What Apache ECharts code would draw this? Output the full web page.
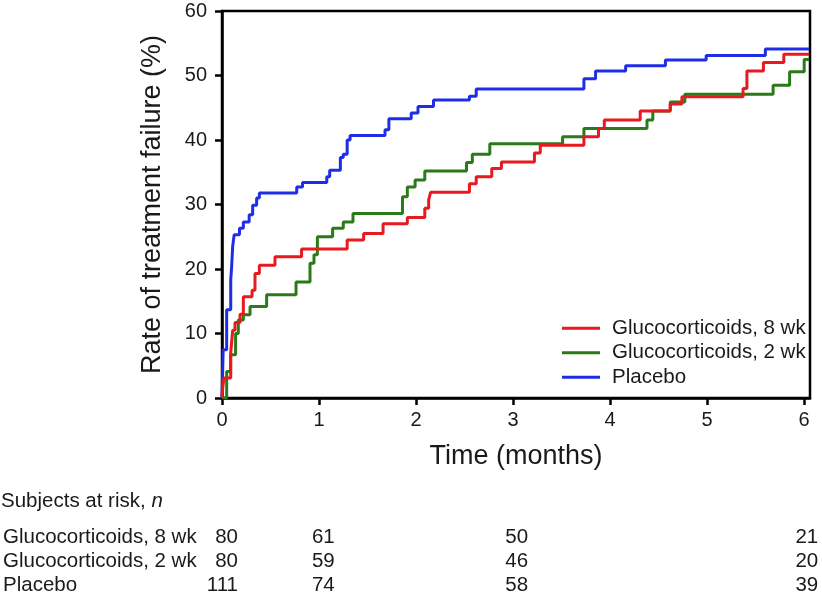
<!DOCTYPE html>
<html>
<head>
<meta charset="utf-8">
<script src="https://cdn.jsdelivr.net/npm/echarts@6/dist/echarts.min.js"></script>
<style>
html,body{margin:0;padding:0;background:#fff;}
#c{width:822px;height:602px;}
</style>
</head>
<body>
<div id="c"></div>
<script>
// ---- Data ----
const seriesNames = ['Glucocorticoids, 8 wk', 'Glucocorticoids, 2 wk', 'Placebo'];

const gc8T = [0, 0.005, 0.02, 0.09, 0.11, 0.134, 0.186, 0.22, 0.31, 0.34, 0.385, 0.546, 0.82, 1.29, 1.46, 1.66, 1.91, 2.09, 2.13, 2.15, 2.55, 2.62, 2.78, 2.88, 3.22, 3.28, 3.73, 3.88, 3.94, 4.31, 4.62, 4.74, 5.37, 5.41, 5.58, 5.79, 6.05];
const gc8Y = [0, 1.3, 3.1, 7.0, 10.5, 11.7, 13.0, 15.7, 16.7, 19.3, 20.6, 21.9, 23.1, 24.5, 25.5, 27.0, 28.0, 29.4, 30.7, 31.9, 33.2, 34.3, 35.6, 36.6, 38.0, 39.2, 40.5, 41.8, 43.1, 44.5, 45.6, 46.7, 48.0, 50.7, 52.0, 53.3, 53.3];

const gc2T = [0, 0.048, 0.089, 0.14, 0.168, 0.22, 0.289, 0.46, 0.763, 0.907, 0.948, 0.983, 1.14, 1.25, 1.35, 1.86, 1.91, 1.99, 2.09, 2.52, 2.58, 2.76, 3.51, 3.73, 4.38, 4.44, 4.62, 4.77, 5.68, 5.85, 6.0, 6.05];
const gc2Y = [0, 4.1, 6.7, 10.0, 12.1, 12.9, 14.2, 16.0, 18.0, 20.9, 22.2, 25.0, 26.3, 27.3, 28.6, 31.2, 32.7, 33.8, 35.2, 36.5, 37.8, 39.4, 40.5, 41.8, 43.1, 44.5, 45.9, 47.1, 48.5, 50.6, 52.5, 52.5];

const plT = [0, 0.012, 0.048, 0.09, 0.10, 0.11, 0.125, 0.18, 0.22, 0.28, 0.316, 0.357, 0.385, 0.77, 0.83, 1.08, 1.11, 1.22, 1.25, 1.29, 1.32, 1.68, 1.72, 1.95, 2.02, 2.18, 2.55, 2.62, 3.73, 3.85, 4.16, 4.57, 4.99, 5.60, 6.05];
const plY = [0, 7.5, 13.7, 18.3, 20.5, 23.5, 25.3, 26.3, 27.3, 28.4, 29.9, 31.0, 31.8, 32.7, 33.4, 34.3, 35.3, 37.3, 37.8, 40.0, 40.7, 41.6, 43.3, 44.2, 45.2, 46.2, 46.8, 47.9, 49.5, 50.7, 51.5, 52.4, 53.1, 54.1, 54.1];

const xTicks = [0, 1, 2, 3, 4, 5, 6];
const riskTimes = [0, 1, 3, 6];
const risk8 = [80, 61, 50, 21];
const risk2 = [80, 59, 46, 20];
const riskPl = [111, 74, 58, 39];

// ---- Chart ----
const FONT = 'Liberation Sans, Arial, Helvetica, sans-serif';
const TXT = '#1a1a1a';
const colors = ['#e8191f', '#2a7a19', '#1f2ee6'];

function pairs(t, y) { return t.map((v, i) => [v, y[i]]); }
const riskRows = [risk8, risk2, riskPl];
const riskData = [];
riskRows.forEach((row, r) => row.forEach((n, i) => riskData.push([riskTimes[i], r, n])));

const chart = echarts.init(document.getElementById('c'), null, {renderer: 'canvas'});
chart.setOption({
  animation: false,
  backgroundColor: '#fff',
  textStyle: {fontFamily: FONT, color: TXT},
  grid: [
    {left: 222, right: 12, top: 11, height: 387, show: true, borderColor: '#000', borderWidth: 2.5, backgroundColor: 'transparent'},
    {left: 222, right: 12, top: 525, height: 72, show: false}
  ],
  xAxis: [
    {
      type: 'value', gridIndex: 0, min: 0, max: 6.06, interval: 1,
      name: 'Time (months)', nameLocation: 'middle', nameGap: 45,
      nameTextStyle: {fontSize: 27, color: TXT, fontFamily: FONT},
      axisLine: {show: true, lineStyle: {color: '#000', width: 2.5}},
      axisTick: {show: true, length: 7, lineStyle: {color: '#000', width: 2.5}, customValues: xTicks},
      axisLabel: {fontSize: 20, color: TXT, margin: 12, customValues: xTicks},
      splitLine: {show: false}
    },
    {type: 'value', gridIndex: 1, min: 0, max: 6.06, show: false}
  ],
  yAxis: [
    {
      type: 'value', gridIndex: 0, min: 0, max: 60, interval: 10,
      name: 'Rate of treatment failure (%)', nameLocation: 'middle', nameGap: 56,
      nameTextStyle: {fontSize: 27, color: TXT, fontFamily: FONT},
      axisLine: {show: true, lineStyle: {color: '#000', width: 2.5}},
      axisTick: {show: true, length: 7, lineStyle: {color: '#000', width: 2.5}},
      axisLabel: {fontSize: 20, color: TXT, margin: 15},
      splitLine: {show: false}
    },
    {
      type: 'category', gridIndex: 1, data: seriesNames, inverse: true,
      axisLine: {show: false}, axisTick: {show: false}, splitLine: {show: false},
      axisLabel: {fontSize: 20.5, color: TXT, align: 'left', margin: 221, interval: 0, hideOverlap: false}
    }
  ],
  legend: {
    data: seriesNames,
    orient: 'vertical', left: 562, top: 316, itemGap: 0, padding: 0,
    icon: 'rect', itemWidth: 38, itemHeight: 3,
    textStyle: {fontSize: 20.5, color: TXT, fontFamily: FONT, lineHeight: 24.5, padding: [0, 0, 0, 7]}
  },
  graphic: [{
    type: 'text', left: 1, top: 491,
    style: {
      text: 'Subjects at risk, {i|n}',
      fontSize: 20.5, fontFamily: FONT, fill: TXT,
      rich: {i: {fontStyle: 'italic', fontSize: 20.5, fontFamily: FONT, fill: TXT}}
    }
  }],
  series: [
    {name: seriesNames[0], type: 'line', step: 'end', symbol: 'none', data: pairs(gc8T, gc8Y), color: colors[0], lineStyle: {width: 3, color: colors[0]}, z: 4},
    {name: seriesNames[1], type: 'line', step: 'end', symbol: 'none', data: pairs(gc2T, gc2Y), color: colors[1], lineStyle: {width: 3, color: colors[1]}, z: 3},
    {name: seriesNames[2], type: 'line', step: 'end', symbol: 'none', data: pairs(plT, plY), color: colors[2], lineStyle: {width: 3, color: colors[2]}, z: 2},
    {
      type: 'scatter', xAxisIndex: 1, yAxisIndex: 1, symbolSize: 0, data: riskData, silent: true,
      itemStyle: {color: TXT, opacity: 1},
      label: {show: true, position: [14, 0], align: 'right', verticalAlign: 'middle', fontSize: 20.5, color: TXT, fontFamily: FONT,
        opacity: 1, textBorderWidth: 0, formatter: p => String(p.value[2])}
    }
  ]
});
</script>
</body>
</html>
